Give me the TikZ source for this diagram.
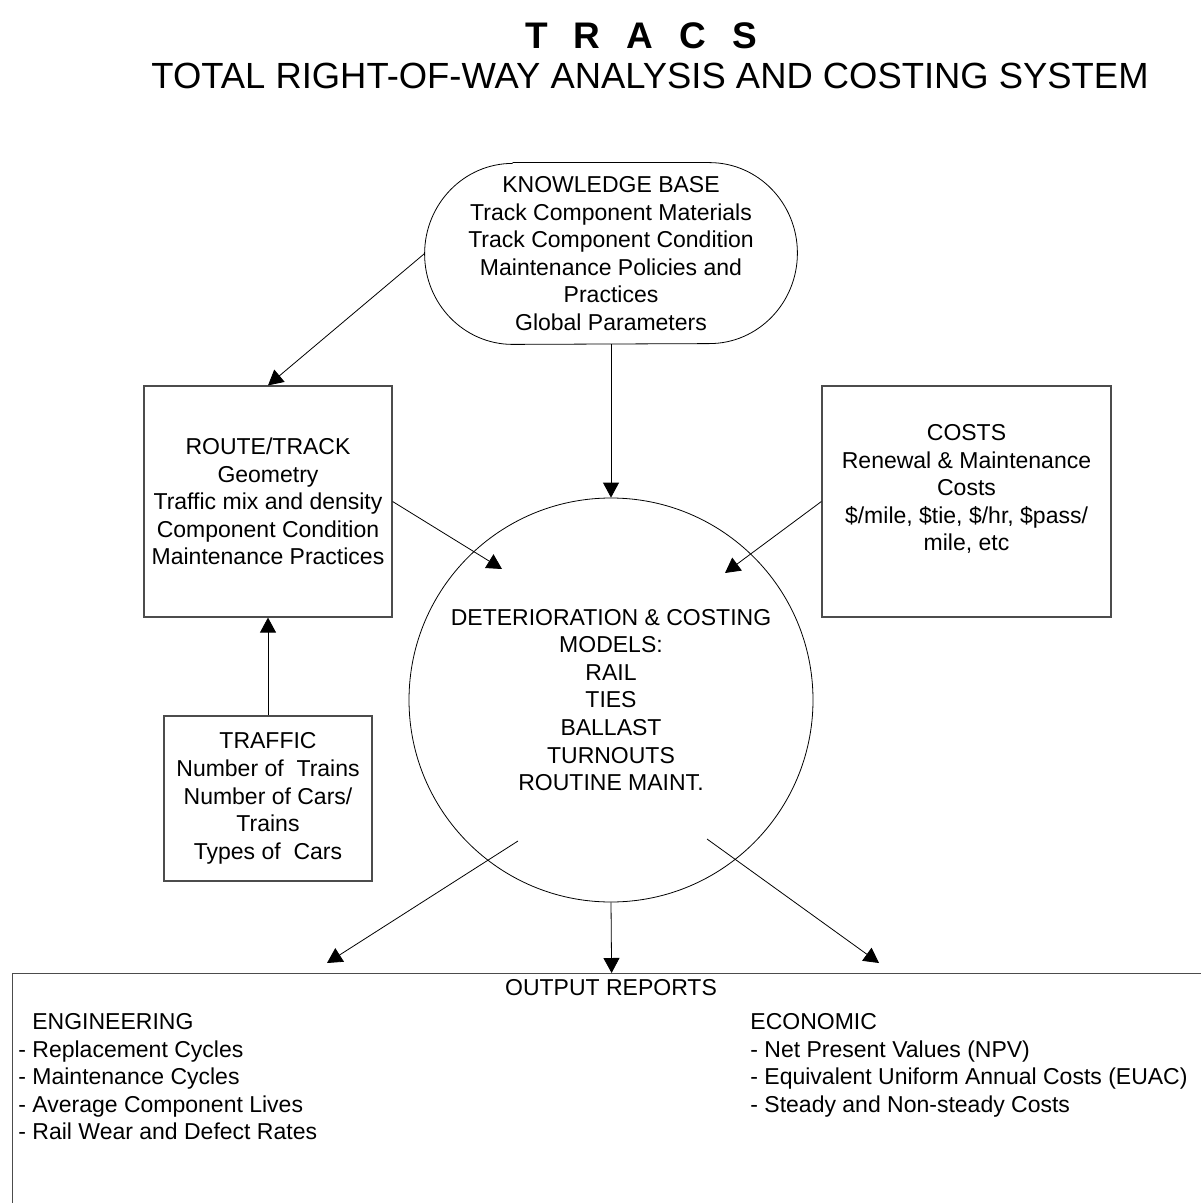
\documentclass[tikz,border=0pt]{standalone}
\usepackage{fontspec}
\setmainfont{Liberation Sans}
\usetikzlibrary{arrows.meta}

\begin{document}
\begin{tikzpicture}[
    x=0.5pt, y=-0.5pt,
    fleche/.style={thin, draw=black, -{Triangle[length=7.5pt,width=8pt]}},
    bloc/.style={rectangle, draw=black!70, line width=0.6pt,
      inner sep=0pt, text centered, align=center},
    bulle/.style={rectangle, inner sep=0pt, align=center,
      minimum width=186pt, minimum height=90.5pt},
    rond/.style={circle, draw=black, thin, inner sep=0pt, align=center,
      minimum size=202pt},
    liste/.style={inner sep=0pt, align=left, anchor=north west}
  ]
  \fontsize{11.5}{13.8}\selectfont
  \useasboundingbox (0,0) rectangle (1200,1203);
  \path (641,36) node(titre) {\fontsize{18.5}{22}\selectfont\bfseries
    T\hspace{13pt}R\hspace{13pt}A\hspace{13pt}C\hspace{13pt}S}
  (650,76) node(soustitre) {\fontsize{18.2}{22}\selectfont
    TOTAL RIGHT-OF-WAY ANALYSIS AND COSTING SYSTEM}

  (611,253.5) node(kb) [bulle] {
    KNOWLEDGE BASE\\
    Track Component Materials\\
    Track Component Condition\\
    Maintenance Policies and\\
    Practices\\
    Global Parameters
  }
  (268,501.5) node(route) [bloc, minimum width=124pt, minimum height=115.5pt] {
    ROUTE/TRACK\\
    Geometry\\
    Traffic mix and density\\
    Component Condition\\
    Maintenance Practices
  }
  (966.5,501.5) node(costs) [bloc, minimum width=144.5pt, minimum height=115.5pt] {
    COSTS\\
    Renewal \& Maintenance\\
    Costs\\
    \$/mile, \$tie, \$/hr, \$pass/\\
    mile, etc\\
    ~
  }
  (268,798.5) node(traffic) [bloc, minimum width=104pt, minimum height=82.5pt] {
    TRAFFIC\\
    Number of~ Trains\\
    Number of Cars/\\
    Trains\\
    Types of~ Cars
  }
  (611,700) node(models) [rond] {
    DETERIORATION \& COSTING\\
    MODELS:\\
    RAIL\\
    TIES\\
    BALLAST\\
    TURNOUTS\\
    ROUTINE MAINT.
  }
  (12,973) node(output) [bloc, anchor=north west, minimum width=599pt,
    minimum height=121pt] {};

  % contour ovale de la base de connaissances
  \draw[thin] ([xshift=44pt]kb.north west) -- ([xshift=-44pt]kb.north east)
    arc[start angle=90, end angle=-90, x radius=44pt, y radius=45.25pt]
    -- ([xshift=44pt]kb.south west)
    arc[start angle=270, end angle=90, x radius=44pt, y radius=45.25pt];

  % textes du rapport
  \path (611,988) node(rapport) {OUTPUT REPORTS}
  (18,1013) node(eng) [liste] {
    \hspace{7pt}ENGINEERING\\
    - Replacement Cycles\\
    - Maintenance Cycles\\
    - Average Component Lives\\
    - Rail Wear and Defect Rates
  }
  (750,1013) node(eco) [liste] {
    ECONOMIC\\
    - Net Present Values (NPV)\\
    - Equivalent Uniform Annual Costs (EUAC)\\
    - Steady and Non-steady Costs
  };

  % bouts libres des fleches
  \coordinate (rt) at (502,569);
  \coordinate (ct) at (725,573);
  \coordinate (ml) at (518,841);
  \coordinate (olt) at (327,963);
  \coordinate (mr) at (707,839);
  \coordinate (ort) at (879,963);

  \draw[fleche] (kb.west) -- (route.north);
  \draw[fleche] (kb.south) -- (models.north);
  \draw[fleche] (route.east) -- (rt);
  \draw[fleche] (costs.west) -- (ct);
  \draw[fleche] (traffic.north) -- (route.south);
  \draw[fleche] (ml) -- (olt);
  \draw[fleche] (models.south) -- (output.north);
  \draw[fleche] (mr) -- (ort);
\end{tikzpicture}
\end{document}
